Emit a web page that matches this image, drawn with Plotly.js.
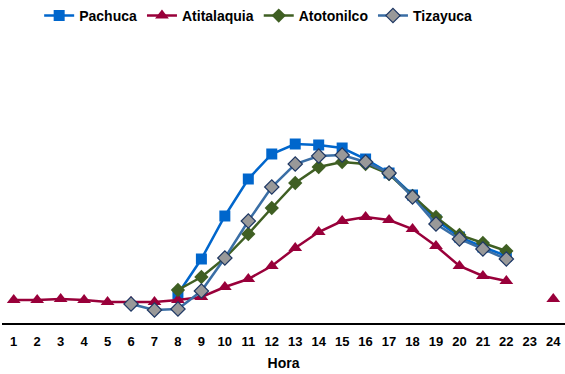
<!DOCTYPE html>
<html>
<head>
<meta charset="utf-8">
<script src="https://cdn.plot.ly/plotly-3.0.1.min.js"></script>
<style>html,body{margin:0;padding:0;background:#fff;}#chart{width:565px;height:374px;}</style>
</head>
<body>
<div id="chart"></div>
<script>
var horas = ["1","2","3","4","5","6","7","8","9","10","11","12","13","14","15","16","17","18","19","20","21","22","23","24"];
var pachuca     = [null,null,null,null,null,null,null,29,64,107,144,169,179,178,175,164,150,128,103,86,76,67,null,null];
var atitalaquia = [23,23,24,23,21,21,21,23,26,36,44,57,75,91,102,106,103,94,77,57,47,42,null,24];
var atotonilco  = [null,null,null,null,null,null,null,33,46,65,89,115,140,156,161,159,149,127,106,88,80,72,null,null];
var tizayuca    = [null,null,null,null,null,19,13,14,32,65,102,136,159,167,168,161,150,126,99,84,74,64,null,null];

var base = {x: horas, type: 'scatter', mode: 'lines+markers', connectgaps: false, cliponaxis: false};
var traces = [
  Object.assign({}, base, {name: 'Pachuca', y: pachuca,
    line: {color: '#0066CC', width: 2.5},
    marker: {symbol: 'square', size: 11, color: '#0066CC'}}),
  Object.assign({}, base, {name: 'Atitalaquia', y: atitalaquia,
    line: {color: '#99003A', width: 2.5},
    marker: {symbol: 'triangle-up', size: 12, color: '#99003A'}}),
  Object.assign({}, base, {name: 'Atotonilco', y: atotonilco,
    line: {color: '#3F5F23', width: 2.5},
    marker: {symbol: 'diamond', size: 11, color: '#3F5F23'}}),
  Object.assign({}, base, {name: 'Tizayuca', y: tizayuca,
    line: {color: '#3A6EA5', width: 2.5},
    marker: {symbol: 'diamond', size: 11, color: '#999999', line: {color: '#1F3864', width: 1.2}}})
];

var layout = {
  width: 565, height: 374,
  margin: {l: 2, r: 0, t: 40, b: 51},
  paper_bgcolor: '#ffffff', plot_bgcolor: '#ffffff',
  font: {family: 'Liberation Sans, Arial, sans-serif', color: '#000000'},
  showlegend: true,
  legend: {orientation: 'h', x: 0.455, xanchor: 'center', y: 1.0, yanchor: 'top', yref: 'container',
    font: {size: 14, family: 'Liberation Sans, Arial, sans-serif', weight: 'bold', color: '#000'},
    itemwidth: 30, traceorder: 'normal', tracegroupgap: 0},
  xaxis: {
    type: 'category', range: [-0.5, 23.5],
    showline: true, linecolor: '#000000', linewidth: 1.5,
    showgrid: false, zeroline: false, ticks: '', ticklabelstandoff: 6,
    tickfont: {size: 13, family: 'Liberation Sans, Arial, sans-serif', weight: 'bold', color: '#000'},
    title: {text: 'Hora', font: {size: 14, family: 'Liberation Sans, Arial, sans-serif', weight: 'bold', color: '#000'}, standoff: 10}
  },
  yaxis: {
    range: [0, 283], visible: false, showgrid: false, zeroline: false
  }
};

Plotly.newPlot('chart', traces, layout, {displayModeBar: false, staticPlot: true});
</script>
</body>
</html>
